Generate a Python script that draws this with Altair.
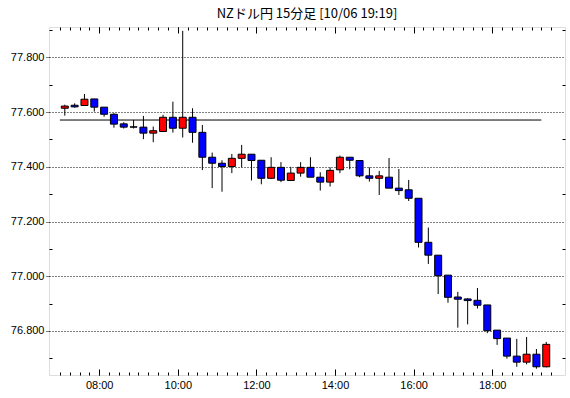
import altair as alt
import pandas as pd

# 15-minute candles from 07:00 to 19:15
start_minutes = 7 * 60
labels = [f"{(start_minutes + 15 * i) // 60:02d}:{(start_minutes + 15 * i) % 60:02d}" for i in range(50)]

opens = [77.614, 77.625, 77.624, 77.648, 77.618, 77.592, 77.557, 77.546, 77.545, 77.523,
         77.529, 77.581, 77.541, 77.581, 77.526, 77.435, 77.413, 77.401, 77.431, 77.446,
         77.424, 77.358, 77.398, 77.350, 77.377, 77.398, 77.362, 77.344, 77.389, 77.435,
         77.423, 77.367, 77.358, 77.362, 77.322, 77.316, 77.285, 77.124, 77.077, 77.004,
         76.924, 76.917, 76.912, 76.895, 76.803, 76.774, 76.708, 76.686, 76.715, 76.669]
highs = [77.627, 77.632, 77.666, 77.648, 77.618, 77.596, 77.563, 77.571, 77.586, 77.547,
         77.590, 77.638, 77.897, 77.614, 77.553, 77.452, 77.424, 77.447, 77.480, 77.446,
         77.424, 77.435, 77.417, 77.400, 77.417, 77.435, 77.380, 77.398, 77.441, 77.435,
         77.423, 77.398, 77.385, 77.432, 77.392, 77.352, 77.285, 77.178, 77.077, 77.004,
         76.943, 76.920, 76.957, 76.895, 76.803, 76.774, 76.771, 76.778, 76.734, 76.760]
lows = [77.587, 77.616, 77.624, 77.602, 77.583, 77.543, 77.540, 77.540, 77.501, 77.490,
        77.529, 77.525, 77.507, 77.488, 77.388, 77.322, 77.309, 77.377, 77.398, 77.350,
        77.336, 77.355, 77.344, 77.350, 77.364, 77.362, 77.313, 77.328, 77.377, 77.391,
        77.362, 77.346, 77.297, 77.322, 77.297, 77.275, 77.105, 77.045, 76.935, 76.903,
        76.812, 76.824, 76.882, 76.792, 76.749, 76.699, 76.669, 76.678, 76.662, 76.667]
closes = [77.622, 77.619, 77.647, 77.618, 77.592, 77.556, 77.545, 77.545, 77.523, 77.532,
          77.581, 77.541, 77.581, 77.526, 77.435, 77.413, 77.401, 77.431, 77.446, 77.423,
          77.358, 77.398, 77.351, 77.377, 77.398, 77.362, 77.344, 77.387, 77.435, 77.424,
          77.367, 77.358, 77.367, 77.322, 77.313, 77.285, 77.124, 77.077, 77.002, 76.923,
          76.916, 76.911, 76.894, 76.801, 76.772, 76.708, 76.686, 76.715, 76.669, 76.751]

ref_level = 77.571
ref_start, ref_end = "07:00", "19:15"

major_x = ["08:00", "10:00", "12:00", "14:00", "16:00", "18:00"]
major_y = [76.8, 77.0, 77.2, 77.4, 77.6, 77.8]
minor_y = [76.7, 76.9, 77.1, 77.3, 77.5, 77.7, 77.9]


def to_min(s):
    h, m = s.split(":")
    return int(h) * 60 + int(m)


df = pd.DataFrame({
    "label": labels,
    "t": [to_min(s) + 7.5 for s in labels],
    "open": opens, "high": highs, "low": lows, "close": closes,
})
df["dir"] = ["up" if c > o else "down" for o, c in zip(opens, closes)]

ref_df = pd.DataFrame({"x": [to_min(ref_start)], "x2": [to_min(ref_end)], "y": [ref_level]})

major_x_vals = [to_min(s) for s in major_x]
minor_x_vals = list(range(to_min("07:00"), to_min("19:30") + 1, 15))

xscale = alt.Scale(domain=[411, 1183.5], nice=False, zero=False)
yscale = alt.Scale(domain=[76.639, 77.911], nice=False, zero=False)

FONT = "Liberation Sans Narrow, Liberation Sans, Arial"
label_expr = "format(floor(datum.value/60), '02d') + ':' + format(datum.value % 60, '02d')"

ax_bottom_major = alt.Axis(orient="bottom", values=major_x_vals, labelExpr=label_expr, tickSize=6, offset=-6,
                           domain=False, grid=False, tickColor="black", labelColor="black",
                           labelFont=FONT, labelFontSize=11, labelPadding=4, title=None)
ax_bottom_minor = alt.Axis(orient="bottom", values=minor_x_vals, labels=False, tickSize=3, offset=-3,
                           domain=False, grid=False, tickColor="black", title=None)
ax_top_major = alt.Axis(orient="top", values=major_x_vals, labels=False, tickSize=6, offset=-6,
                        domain=False, grid=False, tickColor="black", title=None)
ax_top_minor = alt.Axis(orient="top", values=minor_x_vals, labels=False, tickSize=3, offset=-3,
                        domain=False, grid=False, tickColor="black", title=None)

ax_left_major = alt.Axis(orient="left", values=major_y, format=".3f", tickSize=4, tickDash=[1, 1],
                         domain=False, grid=True, gridColor="black", gridDash=[1, 2], gridOpacity=1,
                         tickColor="black", labelColor="black", labelFont=FONT, labelFontSize=11,
                         labelPadding=1, title=None)
ax_left_minor = alt.Axis(orient="left", values=minor_y, labels=False, tickSize=3, offset=-3,
                         domain=False, grid=False, tickColor="black", title=None)
ax_right_minor = alt.Axis(orient="right", values=minor_y, labels=False, tickSize=3, offset=-3,
                          domain=False, grid=False, tickColor="black", title=None)

base = alt.Chart(df)

wicks = base.mark_rule(color="black", strokeWidth=1).encode(
    x=alt.X("t:Q", scale=xscale, axis=ax_bottom_major),
    y=alt.Y("low:Q", scale=yscale, axis=ax_left_major),
    y2="high:Q",
)

bodies = base.mark_bar(size=7, stroke="black", strokeWidth=1).encode(
    x=alt.X("t:Q", scale=xscale, axis=ax_bottom_minor),
    y=alt.Y("open:Q", scale=yscale, axis=ax_left_minor),
    y2="close:Q",
    color=alt.Color("dir:N", scale=alt.Scale(domain=["up", "down"], range=["#ff0000", "#0000ff"]), legend=None),
)

ghost1 = base.mark_point(opacity=0).encode(
    x=alt.X("t:Q", scale=xscale, axis=ax_top_major),
    y=alt.Y("open:Q", scale=yscale, axis=ax_right_minor),
)
ghost2 = base.mark_point(opacity=0).encode(
    x=alt.X("t:Q", scale=xscale, axis=ax_top_minor),
    y=alt.Y("open:Q", scale=yscale, axis=None),
)

ref_line = alt.Chart(ref_df).mark_rule(color="black", strokeWidth=1).encode(
    x=alt.X("x:Q", scale=xscale, axis=None),
    x2="x2:Q",
    y=alt.Y("y:Q", scale=yscale, axis=None),
)

chart = alt.layer(wicks, ref_line, bodies, ghost1, ghost2).resolve_axis(
    x="independent", y="independent"
).properties(
    width=516, height=348,
    autosize=alt.AutoSizeParams(type="none"),
    padding={"left": 49, "top": 27, "right": 5, "bottom": 23},
    title=alt.TitleParams("NZドル円 15分足 [10/06 19:19]", font="Noto Sans CJK JP", fontSize=13,
                          fontWeight="normal", color="black", anchor="middle", offset=6),
).configure_view(stroke="black", strokeWidth=1).configure(background="white")

chart.save("out.html", embed_options={"renderer": "svg", "actions": False})
